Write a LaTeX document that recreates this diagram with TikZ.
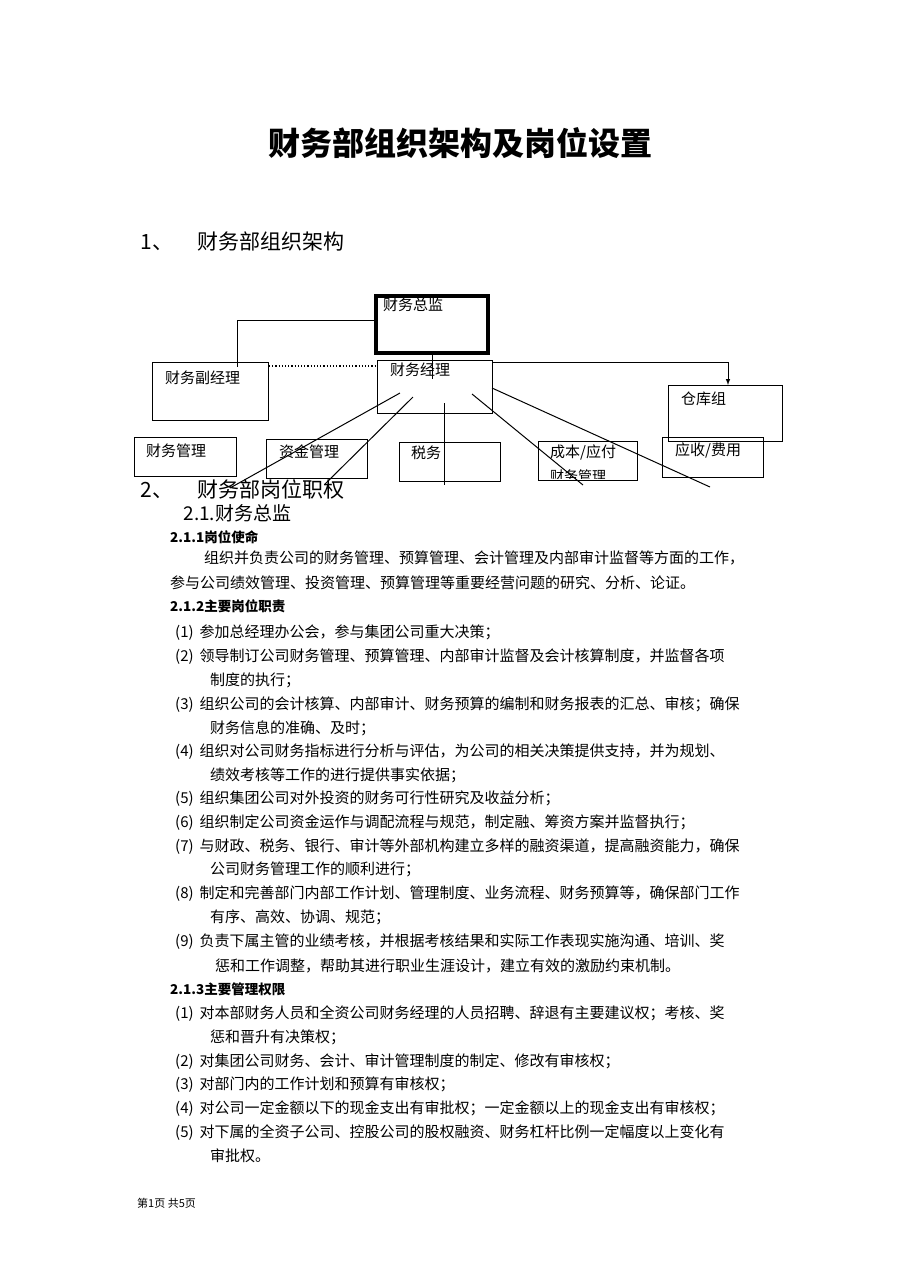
\documentclass[tikz,border=0pt]{standalone}
\usepackage{fontspec}
\setmainfont{Noto Sans CJK SC}
\begin{document}
\begin{tikzpicture}[x=1pt,y=-1pt,
  box/.style={draw,line width=1pt,anchor=north west,inner sep=0pt},
  lbl/.style={anchor=north west,inner sep=0pt,font=\fontsize{15}{17}\selectfont},
  tx/.style={anchor=base west,inner sep=0pt,font=\fontsize{15}{17}\selectfont},
  hd/.style={anchor=base west,inner sep=0pt,font=\fontsize{13.5}{16}\selectfont\bfseries},
  ln/.style={line width=1pt}]
\useasboundingbox (0,0) rectangle (909,1286);
\node[anchor=base,font=\fontsize{32}{36}\selectfont\bfseries] (title) at (460,155) {财务部组织架构及岗位设置};
\node[anchor=base west,font=\fontsize{21}{24}\selectfont] (h1) at (137,249) {1、\hspace{24pt}财务部组织架构};
% boxes
\node[box,line width=4pt,minimum width=112,minimum height=57] (zj) at (374,294) {};
\node[lbl] (zjt) at (383,298) {财务总监};
\node[box,minimum width=116,minimum height=58] (fj) at (152,362) {};
\node[lbl] (fjt) at (165,371) {财务副经理};
\node[box,minimum width=115,minimum height=53] (jl) at (377,360) {};
\node[lbl] (jlt) at (390,363) {财务经理};
\node[box,minimum width=114,minimum height=56] (ck) at (668,385) {};
\node[lbl] (ckt) at (681,392) {仓库组};
\node[box,minimum width=102,minimum height=39] (b1) at (134,437) {};
\node[lbl] (b1t) at (146,444) {财务管理};
\node[box,minimum width=101,minimum height=39] (b2) at (266,439) {};
\node[lbl] (b2t) at (279,445) {资金管理};
\node[box,minimum width=101,minimum height=39] (b3) at (399,442) {};
\node[lbl] (b3t) at (411,446) {税务};
\node[box,minimum width=99,minimum height=39] (b4) at (538,441) {};
\node[lbl] (b4t) at (550,445) {成本/应付};
\begin{scope}
\clip (540,443) rectangle (635,478);
\node[lbl,font=\fontsize{14}{16}\selectfont] (b4u) at (550,469) {财务管理};
\end{scope}
\node[box,minimum width=101,minimum height=40] (b5) at (662,437) {};
\node[lbl] (b5t) at (675,443) {应收/费用};
% connectors
\coordinate (c1) at (237,320); \coordinate (c2) at (234,367);
\draw[ln] (zj.west |- c1) -- (c1) -- (c1 |- c2);
\draw[ln] (zj.south) -- ++(0,24);
\draw[line width=1.2pt,dotted] (fj.north east |- 0,366) -- (jl.west |- 0,366);
\coordinate (ar) at (728,362);
\draw[ln,-latex] (jl.north east |- ar) -- (ar) -- (ck.north -| ar);
\coordinate (e1) at (230,488); \coordinate (e2) at (325,484); \coordinate (e3) at (444,485);
\coordinate (e4) at (583,485); \coordinate (e5) at (710,487);
\draw[ln] (400,393) -- (e1);
\draw[ln] (413,397) -- (e2);
\draw[ln] (444,403) -- (e3);
\draw[ln] (472,394) -- (e4);
\draw[ln] (492,388) -- (e5);
\node[anchor=base west,font=\fontsize{21}{24}\selectfont] (h2) at (137,497) {2、\hspace{24pt}财务部岗位职权};
\node[anchor=base west,font=\fontsize{19}{22}\selectfont] (h21) at (180,520) {2.1.财务总监};
\node[hd] (s1) at (170,542) {2.1.1岗位使命};
\node[tx] (p1) at (204,563) {组织并负责公司的财务管理、预算管理、会计管理及内部审计监督等方面的工作，};
\node[tx] (p2) at (170,588) {参与公司绩效管理、投资管理、预算管理等重要经营问题的研究、分析、论证。};
\node[hd] (s2) at (170,611) {2.1.2主要岗位职责};
\node[tx] at (175,637) {(1)\hspace{6pt}参加总经理办公会，参与集团公司重大决策；};
\node[tx] at (175,661) {(2)\hspace{6pt}领导制订公司财务管理、预算管理、内部审计监督及会计核算制度，并监督各项};
\node[tx] at (210,685) {制度的执行；};
\node[tx] at (175,709) {(3)\hspace{6pt}组织公司的会计核算、内部审计、财务预算的编制和财务报表的汇总、审核；确保};
\node[tx] at (210,733) {财务信息的准确、及时；};
\node[tx] at (175,756) {(4)\hspace{6pt}组织对公司财务指标进行分析与评估，为公司的相关决策提供支持，并为规划、};
\node[tx] at (210,780) {绩效考核等工作的进行提供事实依据；};
\node[tx] at (175,803) {(5)\hspace{6pt}组织集团公司对外投资的财务可行性研究及收益分析；};
\node[tx] at (175,827) {(6)\hspace{6pt}组织制定公司资金运作与调配流程与规范，制定融、筹资方案并监督执行；};
\node[tx] at (175,851) {(7)\hspace{6pt}与财政、税务、银行、审计等外部机构建立多样的融资渠道，提高融资能力，确保};
\node[tx] at (210,874) {公司财务管理工作的顺利进行；};
\node[tx] at (175,898) {(8)\hspace{6pt}制定和完善部门内部工作计划、管理制度、业务流程、财务预算等，确保部门工作};
\node[tx] at (210,922) {有序、高效、协调、规范；};
\node[tx] at (175,946) {(9)\hspace{6pt}负责下属主管的业绩考核，并根据考核结果和实际工作表现实施沟通、培训、奖};
\node[tx] at (215,971) {惩和工作调整，帮助其进行职业生涯设计，建立有效的激励约束机制。};
\node[hd] (s3) at (170,994) {2.1.3主要管理权限};
\node[tx] at (175,1018) {(1)\hspace{6pt}对本部财务人员和全资公司财务经理的人员招聘、辞退有主要建议权；考核、奖};
\node[tx] at (210,1042) {惩和晋升有决策权；};
\node[tx] at (175,1066) {(2)\hspace{6pt}对集团公司财务、会计、审计管理制度的制定、修改有审核权；};
\node[tx] at (175,1089) {(3)\hspace{6pt}对部门内的工作计划和预算有审核权；};
\node[tx] at (175,1113) {(4)\hspace{6pt}对公司一定金额以下的现金支出有审批权；一定金额以上的现金支出有审核权；};
\node[tx] at (175,1137) {(5)\hspace{6pt}对下属的全资子公司、控股公司的股权融资、财务杠杆比例一定幅度以上变化有};
\node[tx] at (210,1161) {审批权。};
\node[anchor=base west,inner sep=0pt,font=\fontsize{11}{13}\selectfont] (ft) at (137,1207) {第1页 共5页};
\end{tikzpicture}
\end{document}
